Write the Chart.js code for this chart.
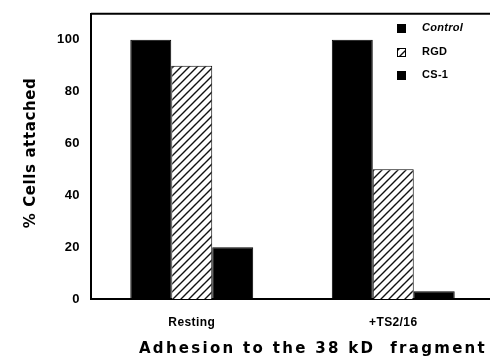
<!DOCTYPE html>
<html>
<head>
<meta charset="utf-8">
<script src="https://cdn.jsdelivr.net/npm/chart.js@4/dist/chart.umd.min.js"></script>
<style>
  html, body { margin: 0; padding: 0; background: #fff; overflow: hidden; }
  #wrap { width: 494px; height: 362px; }
</style>
</head>
<body>
<div id="wrap"><canvas id="chart" width="494" height="362"></canvas></div>
<script>
// data
const groups = ['Resting', '+TS2/16'];
const seriesNames = ['Control', 'RGD', 'CS-1'];
const control = [100, 100];
const rgd = [90, 50];
const cs1 = [20, 3];
const yTitle = '% Cells attached';
const xTitle = 'Adhesion to the 38 kD  fragment';

function hatchPattern() {
    const c = document.createElement('canvas');
    c.width = 8;
    c.height = 8;
    const g = c.getContext('2d');
    g.fillStyle = '#fff';
    g.fillRect(0, 0, 8, 8);
    g.strokeStyle = '#111';
    g.lineWidth = 1.4;
    g.beginPath();
    g.moveTo(0, 8); g.lineTo(8, 0);
    g.moveTo(-2, 2); g.lineTo(2, -2);
    g.moveTo(6, 10); g.lineTo(10, 6);
    g.stroke();
    return g.createPattern(c, 'repeat');
}

const hatch = hatchPattern();
const font = "'Liberation Sans', Arial, sans-serif";
const wideFont = "'DejaVu Sans', sans-serif";

// slightly spaced lettering like the typeset original
const spacing = {
    id: 'spacing',
    beforeDraw(chart) { chart.ctx.letterSpacing = '0.4px'; },
    afterDraw(chart) { chart.ctx.letterSpacing = '0px'; }
};

// top frame line, axis titles and legend
const extras = {
    id: 'extras',
    afterDraw(chart) {
        const ctx = chart.ctx;
        const a = chart.chartArea;
        ctx.save();
        ctx.strokeStyle = '#000';
        ctx.lineWidth = 2;
        ctx.beginPath();
        ctx.moveTo(a.left, a.top);
        ctx.lineTo(a.right, a.top);
        ctx.stroke();

        ctx.fillStyle = '#000';
        ctx.textAlign = 'center';
        ctx.textBaseline = 'middle';
        ctx.font = 'bold 15px ' + wideFont;
        ctx.letterSpacing = '2.3px';
        ctx.fillText(xTitle, 313, 349);

        ctx.save();
        ctx.translate(31, 153);
        ctx.rotate(-Math.PI / 2);
        ctx.letterSpacing = '0.6px';
        ctx.fillText(yTitle, 0, 0);
        ctx.restore();

        ctx.letterSpacing = '0.3px';
        ctx.textAlign = 'left';
        const rows = [28, 52, 75];
        chart.data.datasets.forEach((ds, i) => {
            const y = rows[i];
            ctx.fillStyle = ds.backgroundColor;
            ctx.fillRect(397, y - 4, 9, 9);
            ctx.lineWidth = 1;
            ctx.strokeStyle = '#000';
            ctx.strokeRect(397.5, y - 3.5, 8, 8);
            ctx.fillStyle = '#000';
            ctx.font = (i === 0 ? 'italic ' : '') + 'bold 11px ' + font;
            ctx.fillText(ds.label, 422, y);
        });
        ctx.restore();
    }
};

new Chart(document.getElementById('chart'), {
    type: 'bar',
    data: {
        labels: groups,
        datasets: [
            { label: seriesNames[0], data: control, backgroundColor: '#000' },
            { label: seriesNames[1], data: rgd, backgroundColor: hatch },
            { label: seriesNames[2], data: cs1, backgroundColor: '#000' }
        ].map(d => Object.assign(d, {
            borderColor: '#000',
            borderWidth: 1,
            barPercentage: 1,
            categoryPercentage: 0.61
        }))
    },
    options: {
        responsive: false,
        animation: false,
        layout: { padding: { top: 11, left: 0, right: 0, bottom: 0 } },
        plugins: {
            legend: { display: false },
            tooltip: { enabled: false }
        },
        scales: {
            x: {
                afterFit(s) { s.height = 63; },
                grid: { display: false, drawTicks: false },
                border: { display: true, color: '#000', width: 2 },
                ticks: {
                    color: '#000',
                    padding: 16,
                    font: { family: font, size: 12, weight: 'bold' }
                }
            },
            y: {
                min: 0,
                max: 110,
                afterFit(s) { s.width = 91; },
                afterBuildTicks(s) { s.ticks = s.ticks.filter(t => t.value <= 100); },
                grid: { display: false, drawTicks: true, tickLength: 5, tickColor: '#000' },
                border: { display: true, color: '#000', width: 2 },
                ticks: {
                    stepSize: 10,
                    color: '#000',
                    padding: 6,
                    font: { family: font, size: 13, weight: 'bold' },
                    callback: v => (v % 20 === 0 ? v : '')
                }
            }
        }
    },
    plugins: [spacing, extras]
});
</script>
</body>
</html>
